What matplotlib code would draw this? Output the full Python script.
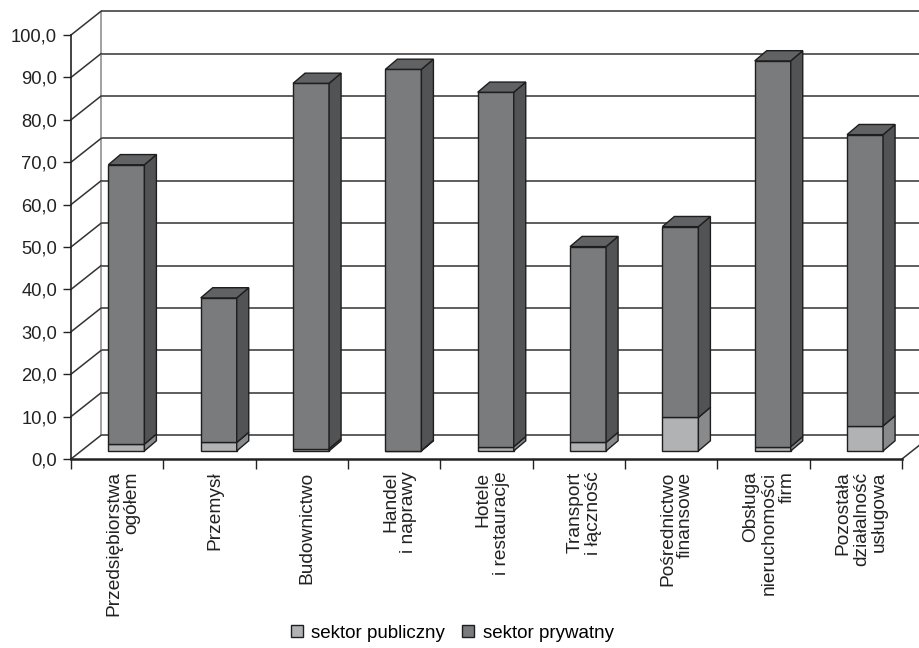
import matplotlib
matplotlib.use('Agg')
import matplotlib.pyplot as plt
from matplotlib.patches import Polygon, Patch
from matplotlib.ticker import FuncFormatter
import numpy as np

plt.rcParams['font.family'] = ['Liberation Sans', 'DejaVu Sans']

# dane
kategorie = ['Przedsiębiorstwa\nogółem', 'Przemysł', 'Budownictwo',
             'Handel\ni naprawy', 'Hotele\ni restauracje', 'Transport\ni łączność',
             'Pośrednictwo\nfinansowe', 'Obsługa\nnieruchomości\nfirm',
             'Pozostała\ndziałalność\nusługowa']
publiczny = [1.6, 2.0, 0.5, 0.1, 1.0, 2.0, 7.9, 1.0, 5.9]
prywatny = [65.9, 34.1, 86.2, 89.9, 83.6, 46.2, 45.0, 91.0, 68.7]
etykiety_y = np.arange(0, 101, 10)

kol_pub = '#b1b2b4'
kol_pub_bok = '#898a8c'
kol_pryw = '#7a7b7d'
kol_pryw_bok = '#525355'
kol_pryw_gora = '#616264'
kol_kraw = '#1e1e1e'

fig = plt.figure(figsize=(9.19, 6.48), dpi=100)
ax = fig.add_axes([71/919, 1 - 459/648, 831/919, 424/648])
ax.set_xlim(0, 9)
ax.set_ylim(0, 100)

# glebokosc scian (w jednostkach danych)
sc_dx, sc_dy = 0.325, 5.6
# plaszczyzna slupkow i ich glebokosc
sl_dx, sl_dy = 0.10, 1.9
gl_dx, gl_dy = 0.13, 2.4
szer = 0.39

# tylna sciana - linie siatki
ax.hlines(etykiety_y + sc_dy, sc_dx, 9 + sc_dx, colors='#333333', lw=1.1,
          clip_on=False, zorder=1)
ax.vlines(sc_dx, sc_dy, 100 + sc_dy, colors='#888888', lw=1.1, clip_on=False, zorder=1)
ax.vlines(9 + sc_dx, sc_dy, 100 + sc_dy, colors='#888888', lw=1.1, clip_on=False, zorder=1)
# lewa sciana - ukosne linie
for v in etykiety_y:
    ax.plot([0, sc_dx], [v, v + sc_dy], color='#333333', lw=1.1, clip_on=False, zorder=1)
ax.plot([9, 9 + sc_dx], [0, sc_dy], color='#333333', lw=1.1, clip_on=False, zorder=1)

# slupki
x = np.arange(len(kategorie)) + 0.5 + sl_dx
dol = np.full(len(x), sl_dy)
gora_pub = dol + np.array(publiczny)
gora = gora_pub + np.array(prywatny)

ax.bar(x, publiczny, szer, bottom=dol, color=kol_pub, edgecolor=kol_kraw, lw=1, zorder=3)
ax.bar(x, prywatny, szer, bottom=gora_pub, color=kol_pryw, edgecolor=kol_kraw, lw=1, zorder=3)

for xi, d, gp, g in zip(x, dol, gora_pub, gora):
    p = xi + szer / 2
    l = xi - szer / 2
    ax.add_patch(Polygon([(p, d), (p + gl_dx, d + gl_dy), (p + gl_dx, gp + gl_dy), (p, gp)],
                         closed=True, fc=kol_pub_bok, ec=kol_kraw, lw=1, zorder=3))
    ax.add_patch(Polygon([(p, gp), (p + gl_dx, gp + gl_dy), (p + gl_dx, g + gl_dy), (p, g)],
                         closed=True, fc=kol_pryw_bok, ec=kol_kraw, lw=1, zorder=3))
    ax.add_patch(Polygon([(l, g), (l + gl_dx, g + gl_dy), (p + gl_dx, g + gl_dy), (p, g)],
                         closed=True, fc=kol_pryw_gora, ec=kol_kraw, lw=1, zorder=3))

# osie
for s in ['top', 'right']:
    ax.spines[s].set_visible(False)
ax.spines['left'].set_color('#222222')
ax.spines['bottom'].set_color('#222222')
ax.spines['left'].set_linewidth(1.2)
ax.spines['bottom'].set_linewidth(1.8)
ax.set_yticks(etykiety_y)
ax.yaxis.set_major_formatter(FuncFormatter(lambda v, p: f'{v:.1f}'.replace('.', ',')))
ax.tick_params(axis='y', length=6, width=1, labelsize=13.2, pad=4, colors='#222222')
ax.set_xticks(np.arange(0, 10), minor=False)
ax.set_xticklabels([])
ax.set_xticks(np.arange(len(kategorie)) + 0.56, minor=True)
ax.set_xticklabels(kategorie, minor=True, rotation=90, fontsize=13.8, linespacing=1.08)
ax.tick_params(axis='x', which='major', length=7, width=1, colors='#222222')
ax.tick_params(axis='x', which='minor', length=0, pad=9, labelcolor='#222222')
for t in ax.get_xticklabels(minor=True):
    t.set_multialignment('right')
ax.patch.set_visible(False)

uchwyty = [Patch(fc=kol_pub, ec=kol_kraw, label='sektor publiczny'),
           Patch(fc=kol_pryw, ec=kol_kraw, label='sektor prywatny')]
fig.legend(handles=uchwyty, loc='center', bbox_to_anchor=(0.492, 1 - 633/648), ncol=2,
           frameon=False, fontsize=13.5, handlelength=0.65, handleheight=0.65,
           handletextpad=0.45, columnspacing=0.9, borderpad=0)

fig.savefig('out.png', dpi=100)
